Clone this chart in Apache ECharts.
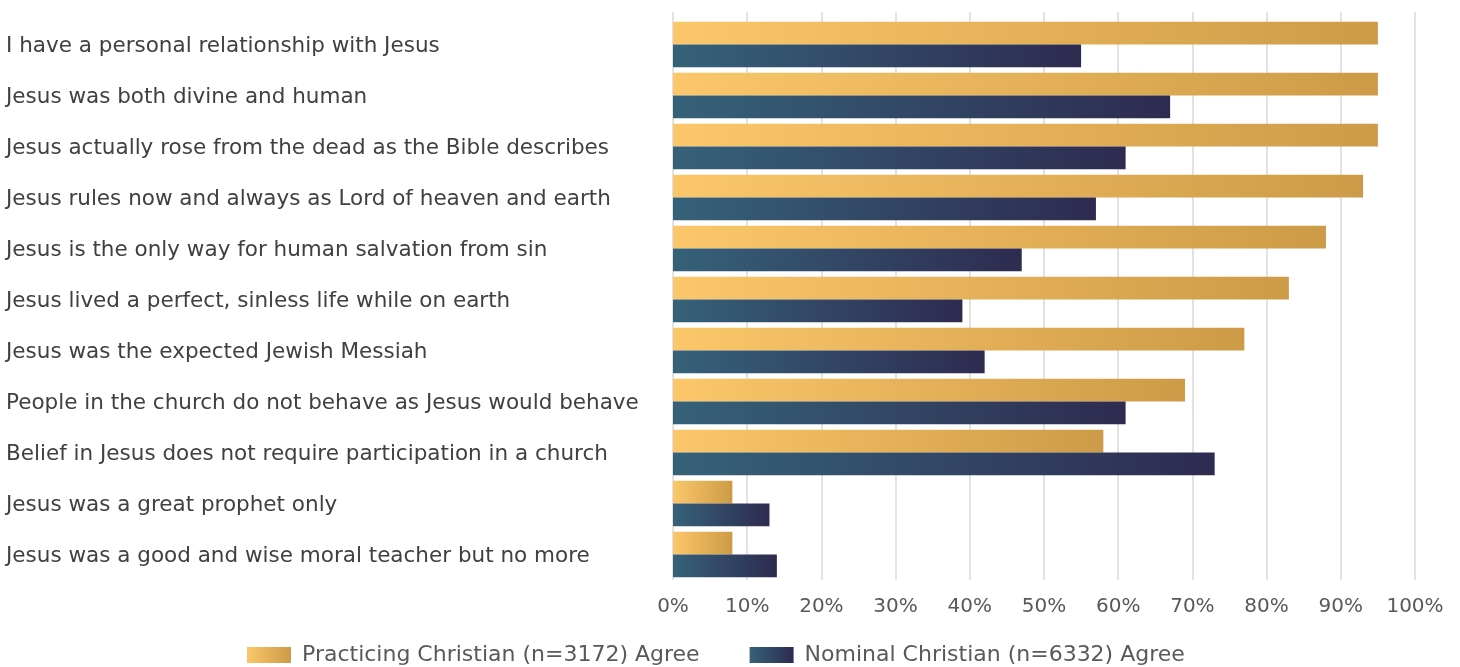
<!DOCTYPE html>
<html>
<head>
<meta charset="utf-8">
<script src="https://cdn.jsdelivr.net/npm/echarts@6/dist/echarts.min.js"></script>
<style>
  html, body { margin: 0; padding: 0; background: #fff; }
  #chart { width: 1460px; height: 667px; }
</style>
</head>
<body>
<div id="chart"></div>
<script>
// Survey statements (top to bottom)
const categories = [
  'I have a personal relationship with Jesus',
  'Jesus was both divine and human',
  'Jesus actually rose from the dead as the Bible describes',
  'Jesus rules now and always as Lord of heaven and earth',
  'Jesus is the only way for human salvation from sin',
  'Jesus lived a perfect, sinless life while on earth',
  'Jesus was the expected Jewish Messiah',
  'People in the church do not behave as Jesus would behave',
  'Belief in Jesus does not require participation in a church',
  'Jesus was a great prophet only',
  'Jesus was a good and wise moral teacher but no more'
];

const seriesNames = [
  'Practicing Christian (n=3172) Agree',
  'Nominal Christian (n=6332) Agree'
];

// Percent agreeing
const practicing = [95, 95, 95, 93, 88, 83, 77, 69, 58, 8, 8];
const nominal = [55, 67, 61, 57, 47, 39, 42, 61, 73, 13, 14];

const FONT = '"DejaVu Sans", sans-serif';

function hGrad(from, to) {
  return new echarts.graphic.LinearGradient(0, 0, 1, 0, [
    { offset: 0, color: from },
    { offset: 1, color: to }
  ]);
}

const chart = echarts.init(document.getElementById('chart'), null, { renderer: 'canvas' });

chart.setOption({
  animation: false,
  backgroundColor: '#ffffff',
  textStyle: { fontFamily: FONT },
  grid: [
    // bars and labels
    { left: 673, right: 45, top: 19, bottom: 87, containLabel: false },
    // gridlines, running slightly above the first row
    { left: 673, right: 45, top: 12, bottom: 87, containLabel: false }
  ],
  legend: {
    bottom: 1,
    left: 247,
    padding: 0,
    itemWidth: 44,
    itemHeight: 16,
    itemGap: 50,
    icon: 'rect',
    textStyle: { fontFamily: FONT, fontSize: 22, color: '#595959', padding: [0, 0, 0, 6] },
    data: seriesNames
  },
  xAxis: [
    {
      type: 'value',
      gridIndex: 0,
      min: 0,
      max: 100,
      interval: 10,
      axisLine: { show: false },
      axisTick: { show: false },
      splitLine: { show: false },
      axisLabel: {
        formatter: '{value}%',
        fontFamily: FONT,
        fontSize: 20,
        color: '#595959',
        margin: 17
      }
    },
    {
      type: 'value',
      gridIndex: 1,
      min: 0,
      max: 100,
      interval: 10,
      axisLine: { show: false },
      axisTick: { show: false },
      axisLabel: { show: false },
      splitLine: { show: true, lineStyle: { color: '#d9d9d9', width: 1.5 } }
    }
  ],
  yAxis: [
    {
      type: 'category',
      gridIndex: 0,
      inverse: true,
      data: categories,
      axisLine: { show: false },
      axisTick: { show: false },
      axisLabel: {
        align: 'left',
        margin: 667,
        formatter: (v) => '{t|' + v + '}',
        rich: {
          t: {
            fontFamily: FONT,
            fontSize: 21.5,
            color: '#404040',
            padding: [4, 0, 0, 0]
          }
        }
      }
    },
    {
      type: 'value',
      gridIndex: 1,
      show: false
    }
  ],
  series: [
    {
      name: seriesNames[0],
      type: 'bar',
      data: practicing,
      barGap: '0%',
      barCategoryGap: '11%',
      z: 3,
      itemStyle: { color: hGrad('#fbc76a', '#cd9b47') }
    },
    {
      name: seriesNames[1],
      type: 'bar',
      data: nominal,
      barGap: '0%',
      barCategoryGap: '11%',
      z: 3,
      itemStyle: { color: hGrad('#366279', '#2e2b50') }
    }
  ]
});
</script>
</body>
</html>
